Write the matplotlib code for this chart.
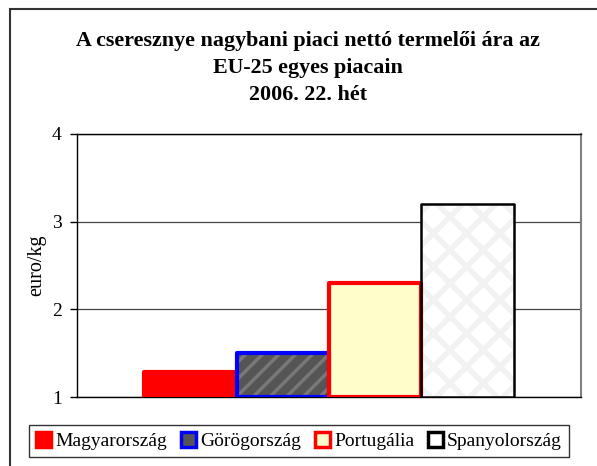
import matplotlib
matplotlib.use("Agg")
import matplotlib.pyplot as plt
from matplotlib.patches import Rectangle, Patch

plt.rcParams['font.family'] = ['Liberation Serif', 'DejaVu Serif']

title = "A cseresznye nagybani piaci nettó termelői ára az\nEU-25 egyes piacain\n2006. 22. hét"
countries = ["Magyarország", "Görögország", "Portugália", "Spanyolország"]
values = [1.28, 1.50, 2.30, 3.20]
yticks = [1, 2, 3, 4]
ylabel = "euro/kg"

faces = ["#ff0000", "#555555", "#ffffcc", "#ffffff"]
edges = ["#ff0000", "#0000ff", "#ff0000", "#000000"]
lws = [3.0, 3.0, 3.0, 1.8]
hatches = [None, "//", None, "x"]
hatch_cols = [None, "#787878", None, "#f2f2f2"]
hatch_lws = [1, 2.5, 1, 4.0]

fig = plt.figure(figsize=(5.97, 4.66), dpi=100)
fig.patches.append(Rectangle((10/597, -0.1), 1.2, (466-9)/466 + 0.1,
                             transform=fig.transFigure, fill=False,
                             edgecolor="#333333", linewidth=1.5))
ax = fig.add_axes([77/597, 1-397/466, (581-77)/597, (397-134)/466])

n = len(countries)
w = 0.1835
xs = [(i - (n-1)/2) * w for i in range(n)]
for i in range(n):
    ax.bar(xs[i], values[i]-1, bottom=1, width=w, color=faces[i], linewidth=0, zorder=3)
    if hatches[i]:
        with plt.rc_context({'hatch.linewidth': hatch_lws[i]}):
            ax.bar(xs[i], values[i]-1, bottom=1, width=w, facecolor="none",
                   edgecolor=hatch_cols[i], hatch=hatches[i], linewidth=0, zorder=3.5)
    ax.bar(xs[i], values[i]-1, bottom=1, width=w, facecolor="none",
           edgecolor=edges[i], linewidth=lws[i], zorder=4, joinstyle="round")

ax.set_xlim(-0.5, 0.5)
ax.set_ylim(1, 4)
ax.set_yticks(yticks)
ax.set_yticklabels([str(t) for t in yticks], fontsize=14)
ax.set_xticks([])
ax.yaxis.grid(True, color="#444444", linewidth=0.9, zorder=0)
ax.set_axisbelow(True)
ax.tick_params(axis='y', length=5, width=1, direction='out', pad=6)
for s in ['left', 'bottom', 'top']:
    ax.spines[s].set_color('black')
    ax.spines[s].set_linewidth(1.0)
ax.spines['right'].set_color('#808080')
ax.spines['right'].set_linewidth(1.5)
ax.set_ylabel(ylabel, fontsize=14.5, labelpad=4)

fig.text(308/597, 1-31/466, title, ha='center', va='top', fontsize=15.8,
         fontweight='bold', linespacing=1.47, multialignment='center')

with plt.rc_context({'hatch.linewidth': 1.0}):
    handles = [Patch(facecolor=faces[i], edgecolor=edges[i], linewidth=2.5) for i in range(n)]
fig.legend(handles, countries, loc='center', bbox_to_anchor=(299/597, 1-441/466),
           ncol=4, frameon=True, fancybox=False, edgecolor='black', fontsize=14,
           handlelength=0.8, handleheight=0.8, handletextpad=0.2, columnspacing=0.7,
           borderpad=0.35, borderaxespad=0)

fig.savefig("out.png", dpi=100)
